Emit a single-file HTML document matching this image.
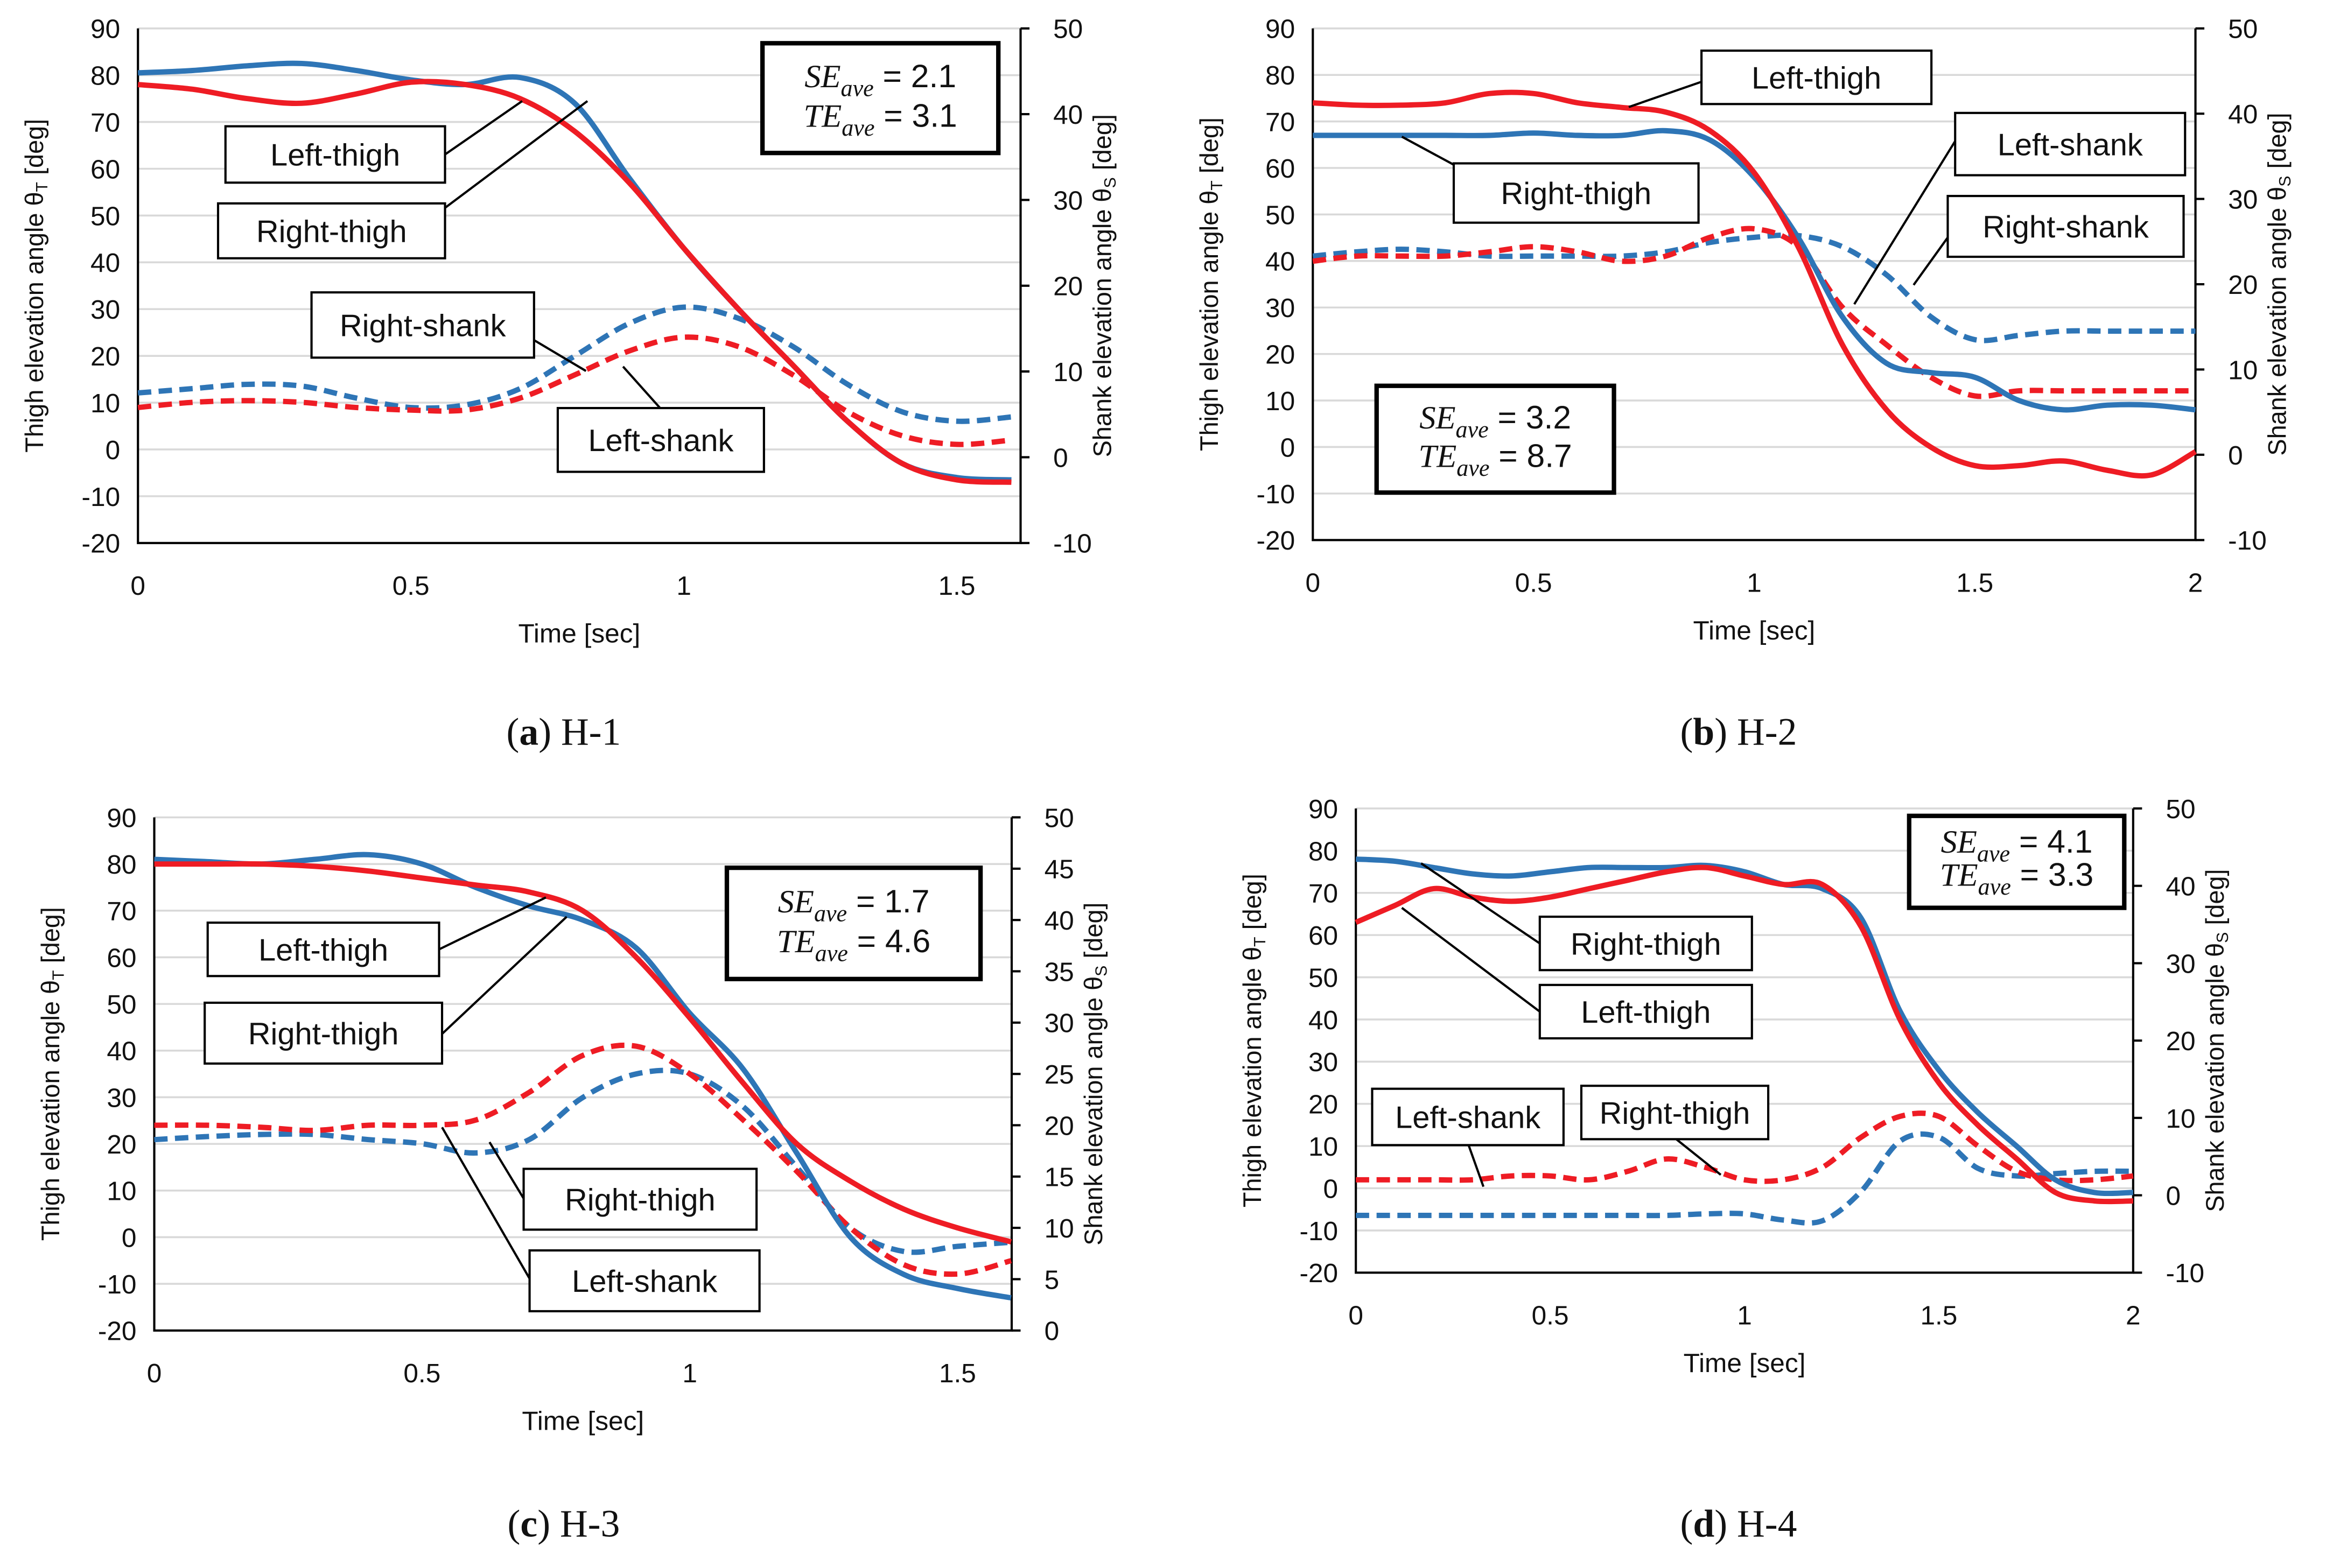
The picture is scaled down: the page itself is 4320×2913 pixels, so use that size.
<!DOCTYPE html>
<html><head><meta charset="utf-8"><style>
html,body{margin:0;padding:0;background:#fff;}
svg{display:block;}
text{font-family:"Liberation Sans",sans-serif;fill:#111;}
</style></head><body>
<svg id="fig" width="4320" height="2913" viewBox="0 0 1568 1057" xmlns="http://www.w3.org/2000/svg"></svg>
<script>
// ---- data (thigh series in left-axis units, shank in right-axis units) ----
const tA = [0,0.1,0.2,0.3,0.4,0.5,0.6,0.7,0.8,0.9,1.0,1.1,1.2,1.3,1.4,1.5,1.6];
const aBlueThigh = [80.5,81,82,82.5,81,79,78,79.5,74,58,43,30,18,6,-3,-6,-6.5];
const aRedThigh = [78,77,75,74,76,78.5,78,75,68,57,43,30,18,6,-3,-6.5,-7];
const aBlueShank = [7.5,8,8.5,8.3,6.9,5.8,6.1,8,11.8,15.6,17.5,16.2,12.9,8.5,5.3,4.2,4.7];
const aRedShank = [5.8,6.4,6.6,6.4,5.8,5.5,5.5,6.9,9.6,12.4,14,12.9,9.6,5.3,2.5,1.5,2];

const tB = [0,0.1,0.2,0.3,0.4,0.5,0.6,0.7,0.8,0.9,1.0,1.1,1.2,1.3,1.4,1.5,1.6,1.7,1.8,1.9,2.0];
const bBlueThigh = [67,67,67,67,67,67.5,67,67,68,66,58,45,28,18,16,15,10,8,9,9,8];
const bRedThigh = [74,73.5,73.5,74,76,76,74,73,72,68,59,43,22,8,0,-4,-4,-3,-5,-6,-1];
const bBlueShank = [23.3,23.8,24.1,23.8,23.3,23.3,23.3,23.3,23.8,24.9,25.5,25.7,24.4,21.1,16.2,13.5,14,14.5,14.5,14.5,14.5];
const bRedShank = [22.7,23.3,23.3,23.3,23.8,24.4,23.8,22.7,23.3,25.5,26.5,24.4,17.3,12.9,9.1,6.9,7.5,7.5,7.5,7.5,7.5];

const tC = [0,0.1,0.2,0.3,0.4,0.5,0.6,0.7,0.8,0.9,1.0,1.1,1.2,1.3,1.4,1.5,1.6];
const cBlueThigh = [81,80.5,80,81,82,80,75,71,68,62,48,36,18,0,-8,-11,-13];
const cRedThigh = [80,80,80,79.5,78.5,77,75.5,74,70,60,47,33,20,12,6,2,-1];
const cBlueShank = [18.6,18.9,19.1,19.1,18.6,18.2,17.3,18.6,22.7,25,25,21.8,15.9,10,7.7,8.2,8.6];
const cRedShank = [20,20,19.8,19.5,20,20,20.5,23.2,26.8,27.7,25,20.5,15.5,10,6.4,5.5,6.8];

const tD = [0,0.1,0.2,0.3,0.4,0.5,0.6,0.7,0.8,0.9,1.0,1.1,1.2,1.3,1.4,1.5,1.6,1.7,1.8,1.9,2.0];
const dBlueThigh = [78,77.5,76,74.5,74,75,76,76,76,76.5,75,72,71,64,42,28,18,10,2,-1,-1];
const dRedThigh = [63,67,71,69,68,69,71,73,75,76,74,72,72,62,40,25,15,7,-1,-3,-3];
const dBlueShank = [-2.6,-2.6,-2.6,-2.6,-2.6,-2.6,-2.6,-2.6,-2.6,-2.4,-2.4,-3.2,-3.3,0.5,7.0,7.5,3.5,2.5,2.8,3.1,3.1];
const dRedShank = [2,2,2,2,2.5,2.5,2,3.1,4.7,3.6,2,2,3.6,7.5,10.2,10.2,6.4,3.1,2,2,2.5];

const leftTicks = [90,80,70,60,50,40,30,20,10,0,-10,-20];
const rightTicksA = [50,40,30,20,10,0,-10];
const rightTicksC = [50,45,40,35,30,25,20,15,10,5,0];

const NS = "http://www.w3.org/2000/svg";
const svg = document.getElementById('fig');
function mk(tag, attrs, parent){
  const e = document.createElementNS(NS, tag);
  for (const k in attrs) e.setAttribute(k, attrs[k]);
  (parent||svg).appendChild(e); return e;
}
function smooth(pts){
  let d = `M${pts[0][0]},${pts[0][1]}`;
  for (let i=0;i<pts.length-1;i++){
    const p0=pts[Math.max(0,i-1)], p1=pts[i], p2=pts[i+1], p3=pts[Math.min(pts.length-1,i+2)];
    const c1=[p1[0]+(p2[0]-p0[0])/6, p1[1]+(p2[1]-p0[1])/6];
    const c2=[p2[0]-(p3[0]-p1[0])/6, p2[1]-(p3[1]-p1[1])/6];
    d += ` C${c1[0]},${c1[1]} ${c2[0]},${c2[1]} ${p2[0]},${p2[1]}`;
  }
  return d;
}
function panel(cfg){
  const g = mk('g', {});
  
  
  const X = t => cfg.x0 + (t - 0) * cfg.pxPerSec;
  const YL = v => cfg.yTop + (90 - v) / 110 * (cfg.yBot - cfg.yTop);
  const YR = v => cfg.yTop + (cfg.rMax - v) / (cfg.rMax - cfg.rMin) * (cfg.yBot - cfg.yTop);
  leftTicks.forEach(v => {
    if (v === -20) return;
    const l = mk('line', {x1:cfg.x0, x2:cfg.x1, y1:YL(v), y2:YL(v), stroke:'#d9d9d9', 'stroke-width':1.3}, g);
    
    
  });
  const ax = mk('path', {d:`M${cfg.x0},${cfg.yTop} V${cfg.yBot} H${cfg.x1} V${cfg.yTop}`, fill:'none', stroke:'#000', 'stroke-width':1.5}, g);
  
  
  leftTicks.forEach(v => {
    const t = mk('text', {x:cfg.x0-12, y:YL(v)+6.5, 'text-anchor':'end', 'font-size':18}, g);
    t.textContent = v;
    
    
  });
  cfg.rTicks.forEach(v => {
    mk('line', {x1:cfg.x1, x2:cfg.x1+6, y1:YR(v), y2:YR(v), stroke:'#000', 'stroke-width':1.5}, g);
    const t = mk('text', {x:cfg.x1+22, y:YR(v)+6.5, 'text-anchor':'start', 'font-size':18}, g);
    t.textContent = v;
    
    
  });
  cfg.xTicks.forEach(v => {
    const t = mk('text', {x:X(v), y:cfg.yBot+35, 'text-anchor':'middle', 'font-size':18}, g);
    t.textContent = v;
    
    
  });
  const xt = mk('text', {x:(cfg.x0+cfg.x1)/2, y:cfg.yBot+67, 'text-anchor':'middle', 'font-size':18}, g);
  xt.textContent = 'Time [sec]';
  
  
  const cy = (cfg.yTop+cfg.yBot)/2;
  const ylt = mk('text', {x:0, y:0, 'text-anchor':'middle', 'font-size':17, transform:`translate(${cfg.x0-64},${cy}) rotate(-90)`}, g);
  ylt.innerHTML = 'Thigh elevation angle θ<tspan font-size="11" dy="3">T</tspan><tspan dy="-3"> [deg]</tspan>';
  
  
  const yrt = mk('text', {x:0, y:0, 'text-anchor':'middle', 'font-size':17, transform:`translate(${cfg.x1+61},${cy}) rotate(-90)`}, g);
  yrt.innerHTML = 'Shank elevation angle θ<tspan font-size="11" dy="3">S</tspan><tspan dy="-3"> [deg]</tspan>';
  
  
  const series = [
    [cfg.blueShank, YR, '#2e75b6', '9 5', 'blue-shank-line'],
    [cfg.redShank, YR, '#ee1c24', '9 5', 'red-shank-line'],
    [cfg.blueThigh, YL, '#2e75b6', '', 'blue-thigh-line'],
    [cfg.redThigh, YL, '#ee1c24', '', 'red-thigh-line'],
  ];
  series.forEach(s => {
    const pts = cfg.t.map((t,i) => [X(t), s[1](s[0][i])]);
    const p = mk('path', {d:smooth(pts), fill:'none', stroke:s[2], 'stroke-width':3.6, 'stroke-dasharray':s[3], 'stroke-linecap':'butt'}, g);
    
    
  });
  cfg.labels.forEach(L => {
    const ln = mk('line', {x1:L.l[0], y1:L.l[1], x2:L.l[2], y2:L.l[3], stroke:'#000', 'stroke-width':1.5}, g);
    
    
    const r = mk('rect', {x:L.b[0], y:L.b[1], width:L.b[2]-L.b[0], height:L.b[3]-L.b[1], fill:'#fff', stroke:'#000', 'stroke-width':1.5}, g);
    
    
    const t = mk('text', {x:(L.b[0]+L.b[2])/2, y:(L.b[1]+L.b[3])/2+7.5, 'text-anchor':'middle', 'font-size':21}, g);
    t.textContent = L.s;
    
    
  });
  const E = cfg.err;
  const eb = mk('rect', {x:E.b[0], y:E.b[1], width:E.b[2]-E.b[0], height:E.b[3]-E.b[1], fill:'#fff', stroke:'#000', 'stroke-width':3}, g);
  
  
  const h = (E.b[3]-E.b[1]);
  [['SE', E.se], ['TE', E.te]].forEach((r,i) => {
    const t = mk('text', {x:E.b[0]+(E.b[2]-E.b[0])/2, y:E.b[1]+h*(i?0.76:0.40), 'text-anchor':'middle', 'font-size':22, style:'font-family:"Liberation Serif",serif'}, g);
    t.innerHTML = `<tspan font-style="italic">${r[0]}</tspan><tspan font-style="italic" font-size="16" dy="6">ave</tspan><tspan dy="-6" style="font-family:'Liberation Sans',sans-serif"> = ${r[1]}</tspan>`;
    
    
  });
  const cap = mk('text', {x:cfg.capX, y:cfg.capY, 'text-anchor':'middle', 'font-size':26, style:'font-family:"Liberation Serif",serif'}, g);
  cap.innerHTML = `(<tspan font-weight="bold">${cfg.capL}</tspan>) ${cfg.capT}`;
  
  
}
panel({name:'panel-a', x0:93, x1:688, pxPerSec:368, yTop:19, yBot:366, rMax:50, rMin:-10, rTicks:rightTicksA, xTicks:[0,0.5,1,1.5],
  t:tA, blueThigh:aBlueThigh, redThigh:aRedThigh, blueShank:aBlueShank, redShank:aRedShank,
  labels:[{s:'Left-thigh', b:[152,85,300,123], l:[300,104,352,68]},{s:'Right-thigh', b:[147,137,300,174], l:[300,140,396,68]},
          {s:'Right-shank', b:[210,197,360,241], l:[358,228,395,250]},{s:'Left-shank', b:[376,275,515,318], l:[445,275,420,247]}],
  err:{b:[514,29,673,103], se:'2.1', te:'3.1'}, capX:380, capY:502, capL:'a', capT:'H-1'});
panel({name:'panel-b', x0:885, x1:1480, pxPerSec:297.5, yTop:19, yBot:364, rMax:50, rMin:-10, rTicks:rightTicksA, xTicks:[0,0.5,1,1.5,2],
  t:tB, blueThigh:bBlueThigh, redThigh:bRedThigh, blueShank:bBlueShank, redShank:bRedShank,
  labels:[{s:'Left-thigh', b:[1147,34,1302,70], l:[1147,55,1098,72]},{s:'Right-thigh', b:[980,110,1145,150], l:[982,112,945,92]},
          {s:'Left-shank', b:[1318,76,1473,118], l:[1318,95,1250,205]},{s:'Right-shank', b:[1313,132,1472,173], l:[1313,160,1290,192]}],
  err:{b:[928,260,1088,332], se:'3.2', te:'8.7'}, capX:1172, capY:502, capL:'b', capT:'H-2'});
panel({name:'panel-c', x0:104, x1:682, pxPerSec:361, yTop:551, yBot:897, rMax:50, rMin:0, rTicks:rightTicksC, xTicks:[0,0.5,1,1.5],
  t:tC, blueThigh:cBlueThigh, redThigh:cRedThigh, blueShank:cBlueShank, redShank:cRedShank,
  labels:[{s:'Left-thigh', b:[140,622,296,658], l:[296,640,368,605]},{s:'Right-thigh', b:[138,676,298,717], l:[298,697,382,618]},
          {s:'Right-thigh', b:[353,788,510,829], l:[353,808,330,770]},{s:'Left-shank', b:[357,843,512,884], l:[357,862,298,760]}],
  err:{b:[490,585,661,660], se:'1.7', te:'4.6'}, capX:380, capY:1036, capL:'c', capT:'H-3'});
panel({name:'panel-d', x0:914, x1:1438, pxPerSec:262, yTop:545, yBot:858, rMax:50, rMin:-10, rTicks:rightTicksA, xTicks:[0,0.5,1,1.5,2],
  t:tD, blueThigh:dBlueThigh, redThigh:dRedThigh, blueShank:dBlueShank, redShank:dRedShank,
  labels:[{s:'Right-thigh', b:[1038,618,1181,654], l:[1038,636,958,582]},{s:'Left-thigh', b:[1038,664,1181,700], l:[1038,682,945,612]},
          {s:'Left-shank', b:[925,734,1054,772], l:[990,772,1000,800]},{s:'Right-thigh', b:[1066,732,1192,768], l:[1130,768,1160,792]}],
  err:{b:[1287,550,1432,612], se:'4.1', te:'3.3'}, capX:1172, capY:1036, capL:'d', capT:'H-4'});
</script>
</body></html>
